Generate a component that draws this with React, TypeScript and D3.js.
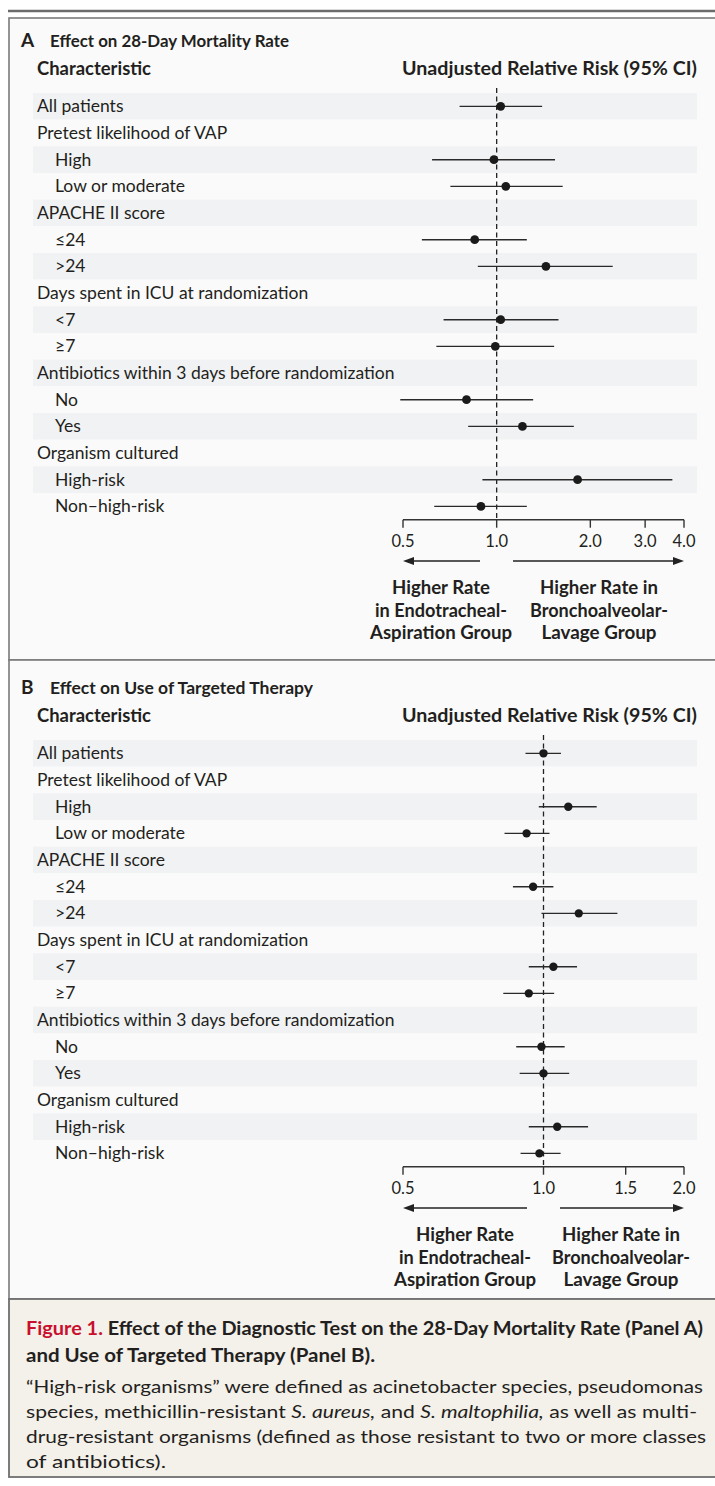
import React from 'react';
import * as d3 from 'd3';

// ---------- DATA ----------
const characteristics = [
  'All patients',
  'Pretest likelihood of VAP',
  'High',
  'Low or moderate',
  'APACHE II score',
  '≤24',
  '>24',
  'Days spent in ICU at randomization',
  '<7',
  '≥7',
  'Antibiotics within 3 days before randomization',
  'No',
  'Yes',
  'Organism cultured',
  'High-risk',
  'Non–high-risk',
];
const indented = [false, false, true, true, false, true, true, false, true, true, false, true, true, false, true, true];

// Panel A: effect on 28-day mortality rate (relative risk, 95% CI)
const mortalityRR: (number | null)[] = [1.03, null, 0.98, 1.07, null, 0.85, 1.44, null, 1.03, 0.99, null, 0.8, 1.21, null, 1.82, 0.89];
const mortalityLo: (number | null)[] = [0.76, null, 0.62, 0.71, null, 0.575, 0.87, null, 0.675, 0.64, null, 0.49, 0.81, null, 0.9, 0.63];
const mortalityHi: (number | null)[] = [1.4, null, 1.54, 1.63, null, 1.25, 2.36, null, 1.58, 1.53, null, 1.31, 1.77, null, 3.67, 1.25];
const mortalityTicks = [0.5, 1.0, 2.0, 3.0, 4.0];

// Panel B: effect on use of targeted therapy
const therapyRR: (number | null)[] = [1.0, null, 1.13, 0.92, null, 0.95, 1.19, null, 1.05, 0.93, null, 0.99, 1.0, null, 1.07, 0.98];
const therapyLo: (number | null)[] = [0.915, null, 0.977, 0.825, null, 0.86, 0.99, null, 0.93, 0.82, null, 0.874, 0.889, null, 0.93, 0.893];
const therapyHi: (number | null)[] = [1.09, null, 1.3, 1.03, null, 1.05, 1.44, null, 1.18, 1.054, null, 1.11, 1.135, null, 1.246, 1.088];
const therapyTicks = [0.5, 1.0, 1.5, 2.0];

const leftLabel = ['Higher Rate', 'in Endotracheal-', 'Aspiration Group'];
const rightLabel = ['Higher Rate in', 'Bronchoalveolar-', 'Lavage Group'];

// ---------- STYLE ----------
const FONT = 'Lato, "Noto Sans", sans-serif';
const INK = '#231f20';
const X0 = 403;
const X1 = 684;
const ROW_H = 26.67;
const leftLabelLen = [98, 132, 142];
const rightLabelLen = [118, 138, 115];

interface PanelProps {
  dy: number;
  letter: string;
  title: string;
  titleLen: number;
  rr: (number | null)[];
  lo: (number | null)[];
  hi: (number | null)[];
  ticks: number[];
  leftArrowStart: number;
  rightArrowStart: number;
  leftCx: number;
  rightCx: number;
  dotR: number;
}

function Panel(p: PanelProps) {
  const x = d3.scaleLog().domain([p.ticks[0], p.ticks[p.ticks.length - 1]]).range([X0, X1]);
  const rowTop = 93 + p.dy;
  const y = d3
    .scaleBand<number>()
    .domain(d3.range(characteristics.length))
    .range([rowTop, rowTop + ROW_H * characteristics.length]);
  const axisY = rowTop + ROW_H * characteristics.length;
  const fmt = d3.format('.1f');
  const arrowY = 561 + p.dy;
  return (
    <g>
      <text x={21} y={47 + p.dy} fontFamily={FONT} fontWeight={700} fontSize={19} fill={INK}>
        {p.letter}
      </text>
      <text
        x={50}
        y={47 + p.dy}
        fontFamily={FONT}
        fontWeight={700}
        fontSize={17.5}
        fill={INK}
        textLength={p.titleLen}
        lengthAdjust="spacingAndGlyphs"
      >
        {p.title}
      </text>
      <text x={37} y={75 + p.dy} fontFamily={FONT} fontWeight={700} fontSize={18} fill={INK} textLength={114} lengthAdjust="spacingAndGlyphs">
        Characteristic
      </text>
      <text x={402} y={75 + p.dy} fontFamily={FONT} fontWeight={700} fontSize={18} fill={INK} textLength={295} lengthAdjust="spacingAndGlyphs">
        Unadjusted Relative Risk (95% CI)
      </text>
      {characteristics.map((c, i) => (
        <g key={c}>
          <rect x={33} y={y(i)!} width={664} height={y.bandwidth()} fill={i % 2 === 0 ? '#f1f2f4' : '#fafafa'} />
          <text
            x={indented[i] ? 55 : 37}
            y={y(i)! + y.bandwidth() / 2 + 6}
            fontFamily={FONT}
            fontSize={17.5}
            fill={INK}
          >
            {c}
          </text>
        </g>
      ))}
      <line
        x1={x(1)}
        x2={x(1)}
        y1={rowTop - 5}
        y2={axisY}
        stroke="#222"
        strokeWidth={1.3}
        strokeDasharray="5,3.5"
      />
      {characteristics.map((c, i) =>
        p.rr[i] == null ? null : (
          <g key={'m' + i}>
            <line
              x1={x(p.lo[i] as number)}
              x2={x(p.hi[i] as number)}
              y1={y(i)! + y.bandwidth() / 2}
              y2={y(i)! + y.bandwidth() / 2}
              stroke="#2a2a2a"
              strokeWidth={1.4}
            />
            <circle cx={x(p.rr[i] as number)} cy={y(i)! + y.bandwidth() / 2} r={p.dotR} fill="#1a1a1a" />
          </g>
        )
      )}
      <line x1={X0} x2={X1} y1={axisY} y2={axisY} stroke="#333" strokeWidth={1.4} />
      {p.ticks.map((t) => (
        <g key={t}>
          <line x1={x(t)} x2={x(t)} y1={axisY} y2={axisY + 8} stroke="#333" strokeWidth={1.4} />
          <text x={x(t)} y={axisY + 27} textAnchor="middle" fontFamily={FONT} fontSize={16.5} fill={INK}>
            {fmt(t)}
          </text>
        </g>
      ))}
      <line x1={p.leftArrowStart} x2={X0 + 9} y1={arrowY} y2={arrowY} stroke="#222" strokeWidth={1.6} />
      <path d={`M${X0},${arrowY} L${X0 + 11},${arrowY - 4} L${X0 + 11},${arrowY + 4} Z`} fill="#222" />
      <line x1={p.rightArrowStart} x2={X1 - 9} y1={arrowY} y2={arrowY} stroke="#222" strokeWidth={1.6} />
      <path d={`M${X1},${arrowY} L${X1 - 11},${arrowY - 4} L${X1 - 11},${arrowY + 4} Z`} fill="#222" />
      {leftLabel.map((l, i) => (
        <text
          key={'l' + i}
          x={p.leftCx - leftLabelLen[i] / 2}
          y={594 + p.dy + i * 22.5}
          fontFamily={FONT}
          fontWeight={700}
          fontSize={18}
          fill={INK}
          textLength={leftLabelLen[i]}
          lengthAdjust="spacingAndGlyphs"
        >
          {l}
        </text>
      ))}
      {rightLabel.map((l, i) => (
        <text
          key={'r' + i}
          x={p.rightCx - rightLabelLen[i] / 2}
          y={594 + p.dy + i * 22.5}
          fontFamily={FONT}
          fontWeight={700}
          fontSize={18}
          fill={INK}
          textLength={rightLabelLen[i]}
          lengthAdjust="spacingAndGlyphs"
        >
          {l}
        </text>
      ))}
    </g>
  );
}

export default function App() {
  React.useEffect(() => {
    document.body.style.margin = '0';
  }, []);
  return (
    <svg width={715} height={1486} style={{ position: 'absolute', left: 0, top: 0, background: '#fff' }}>
      <line x1={8} x2={715} y1={11} y2={11} stroke="#6b6b6b" strokeWidth={2.5} />
      <rect x={9} y={18} width={712} height={642} fill="#fafafa" stroke="#7a7a7a" strokeWidth={1.6} />
      <rect x={9} y={660} width={712} height={639} fill="#fafafa" stroke="#7a7a7a" strokeWidth={1.6} />
      <rect x={9} y={1299} width={712} height={178} fill="#f4f0ea" stroke="#6f6f6f" strokeWidth={1.8} />
      <Panel
        dy={0}
        letter="A"
        title="Effect on 28-Day Mortality Rate"
        titleLen={239}
        rr={mortalityRR}
        lo={mortalityLo}
        hi={mortalityHi}
        ticks={mortalityTicks}
        leftArrowStart={480}
        rightArrowStart={513}
        leftCx={441}
        rightCx={599}
        dotR={4.4}
      />
      <Panel
        dy={647}
        letter="B"
        title="Effect on Use of Targeted Therapy"
        titleLen={263}
        rr={therapyRR}
        lo={therapyLo}
        hi={therapyHi}
        ticks={therapyTicks}
        leftArrowStart={527}
        rightArrowStart={560}
        leftCx={465}
        rightCx={621}
        dotR={4.2}
      />
      <text x={26} y={1335} fontFamily={FONT} fontWeight={700} fontSize={18.5} fill={INK} textLength={677} lengthAdjust="spacingAndGlyphs">
        <tspan fill="#c8102e">Figure 1.</tspan> Effect of the Diagnostic Test on the 28-Day Mortality Rate (Panel A)
      </text>
      <text x={26} y={1362} fontFamily={FONT} fontWeight={700} fontSize={18.5} fill={INK} textLength={349} lengthAdjust="spacingAndGlyphs">
        and Use of Targeted Therapy (Panel B).
      </text>
      <text x={26} y={1393} fontFamily={FONT} fontSize={17.5} fill={INK} textLength={677} lengthAdjust="spacingAndGlyphs">
        “High-risk organisms” were defined as acinetobacter species, pseudomonas
      </text>
      <text x={26} y={1418} fontFamily={FONT} fontSize={17.5} fill={INK} textLength={671} lengthAdjust="spacingAndGlyphs">
        species, methicillin-resistant <tspan fontStyle="italic">S. aureus,</tspan> and <tspan fontStyle="italic">S. maltophilia,</tspan> as well as multi-
      </text>
      <text x={26} y={1443} fontFamily={FONT} fontSize={17.5} fill={INK} textLength={680} lengthAdjust="spacingAndGlyphs">
        drug-resistant organisms (defined as those resistant to two or more classes
      </text>
      <text x={26} y={1468} fontFamily={FONT} fontSize={17.5} fill={INK} textLength={140} lengthAdjust="spacingAndGlyphs">
        of antibiotics).
      </text>
    </svg>
  );
}
